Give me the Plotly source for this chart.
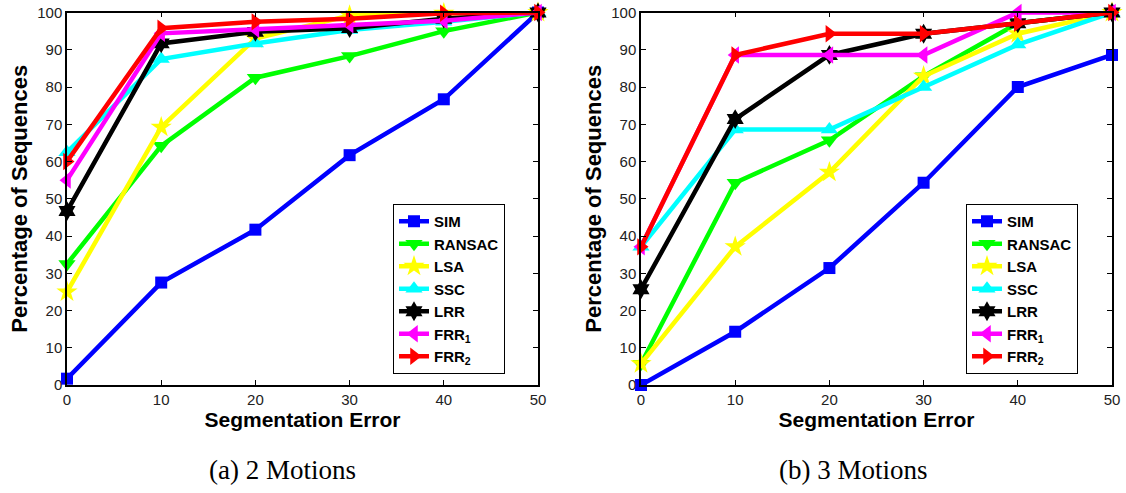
import plotly.graph_objects as go

x_err = [0, 10, 20, 30, 40, 50]
methods = ["SIM", "RANSAC", "LSA", "SSC", "LRR", "FRR<sub>1</sub>", "FRR<sub>2</sub>"]

# 2 motions
sim_2 = [1.7, 27.5, 41.7, 61.7, 76.7, 100]
ransac_2 = [32.5, 64.2, 82.5, 88.3, 95.0, 100]
lsa_2 = [25.0, 69.2, 93.0, 99.2, 99.8, 100]
ssc_2 = [62.5, 87.5, 91.7, 95.3, 97.5, 100]
lrr_2 = [46.7, 91.7, 94.8, 95.8, 98.3, 100]
frr1_2 = [55.0, 94.4, 95.5, 96.7, 97.8, 100]
frr2_2 = [60.0, 95.8, 97.5, 98.3, 99.8, 100]

# 3 motions
sim_3 = [0.0, 14.3, 31.4, 54.3, 80.0, 88.6]
ransac_3 = [5.7, 54.3, 65.7, 82.9, 97.1, 100]
lsa_3 = [5.7, 37.1, 57.1, 82.9, 94.3, 100]
ssc_3 = [37.1, 68.6, 68.6, 80.0, 91.4, 100]
lrr_3 = [25.7, 71.4, 88.6, 94.3, 97.1, 100]
frr1_3 = [37.1, 88.6, 88.6, 88.6, 100, 100]
frr2_3 = [37.1, 88.6, 94.3, 94.3, 97.1, 100]

colors = ["#0000ff", "#00ff00", "#ffff00", "#00ffff", "#000000", "#ff00ff", "#ff0000"]
symbols = ["square", "triangle-down", "star", "triangle-up", "hexagram", "triangle-left", "triangle-right"]
sizes = [12, 15, 16, 15, 15, 15, 15]

data2 = [sim_2, ransac_2, lsa_2, ssc_2, lrr_2, frr1_2, frr2_2]
data3 = [sim_3, ransac_3, lsa_3, ssc_3, lrr_3, frr1_3, frr2_3]

fig = go.Figure()

for data, xa, ya, lg in [(data2, "x", "y", "legend"), (data3, "x2", "y2", "legend2")]:
    for name, vals, c, s, sz in zip(methods, data, colors, symbols, sizes):
        fig.add_trace(go.Scatter(
            x=x_err, y=vals, name=name, mode="lines+markers",
            line=dict(color=c, width=4.5),
            marker=dict(symbol=s, size=sz, color=c, line=dict(width=0)),
            xaxis=xa, yaxis=ya, legend=lg, cliponaxis=False,
        ))

H = 493
W = 1126
ydom = [1 - 385 / H, 1 - 12.5 / H]

axis_common = dict(
    showline=True, linecolor="black", linewidth=1.5, mirror="allticks",
    ticks="inside", ticklen=5, tickcolor="black", showgrid=False, zeroline=False,
    tickfont=dict(family="Liberation Sans, Arial", size=15, color="#222"),
    automargin=False,
)

xtitle = dict(text="<b>Segmentation Error</b>", standoff=4,
              font=dict(family="Liberation Sans, Arial", size=21, color="black"))
ytitle = dict(text="<b>Percentage of Sequences</b>", standoff=4,
              font=dict(family="Liberation Sans, Arial", size=22, color="black"))

legend_common = dict(
    xanchor="left", yanchor="top", bordercolor="black", borderwidth=1, bgcolor="white",
    font=dict(family="Liberation Sans, Arial", size=15, color="black", weight="bold"),
    tracegroupgap=0, itemsizing="trace",
)

fig.update_layout(
    width=W, height=H,
    margin=dict(l=0, r=0, t=0, b=0),
    plot_bgcolor="white", paper_bgcolor="white",
    showlegend=True,
    xaxis=dict(domain=[67 / W, 538 / W], range=[0, 50], tickvals=[0, 10, 20, 30, 40, 50],
               anchor="y", title=xtitle, **axis_common),
    yaxis=dict(domain=ydom, range=[0, 100], tickvals=list(range(0, 101, 10)),
               anchor="x", title=ytitle, **axis_common),
    xaxis2=dict(domain=[641 / W, 1112 / W], range=[0, 50], tickvals=[0, 10, 20, 30, 40, 50],
                anchor="y2", title=xtitle, **axis_common),
    yaxis2=dict(domain=ydom, range=[0, 100], tickvals=list(range(0, 101, 10)),
                anchor="x2", title=ytitle, **axis_common),
    legend=dict(x=393 / W, y=1 - 204 / H, **legend_common),
    legend2=dict(x=966 / W, y=1 - 204 / H, **legend_common),
    annotations=[
        dict(text="(a) 2 Motions", x=283 / W, y=1 - 470 / H, xref="paper", yref="paper",
             xanchor="center", yanchor="middle", showarrow=False,
             font=dict(family="Liberation Serif, Times New Roman", size=27, color="black")),
        dict(text="(b) 3 Motions", x=853 / W, y=1 - 470 / H, xref="paper", yref="paper",
             xanchor="center", yanchor="middle", showarrow=False,
             font=dict(family="Liberation Serif, Times New Roman", size=27, color="black")),
    ],
)

fig.write_html("out.html")
